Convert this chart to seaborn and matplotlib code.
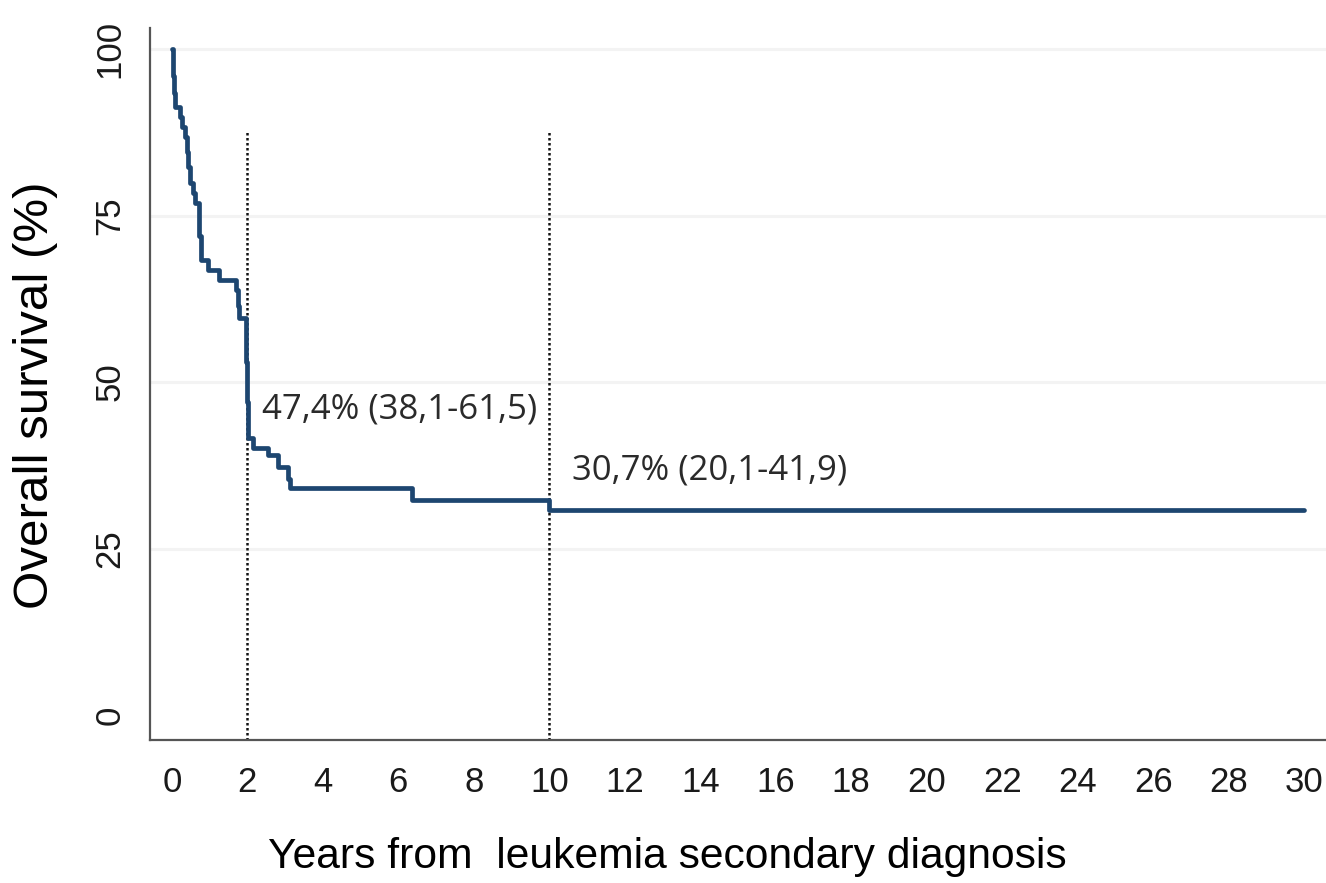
import matplotlib
matplotlib.use("Agg")
import matplotlib.pyplot as plt
import seaborn as sns
import pandas as pd

# Kaplan-Meier step data (years, overall survival %)
years = [0.0, 0.03, 0.06, 0.08, 0.22, 0.28, 0.34, 0.39, 0.43, 0.48, 0.56, 0.61,
         0.73, 0.77, 0.95, 1.24, 1.70, 1.74, 1.78, 1.97, 1.99, 2.01, 2.15, 2.55,
         2.80, 3.08, 3.13, 6.35, 9.98, 30.0]
survival = [100.0, 96.0, 93.5, 91.3, 89.8, 88.3, 86.8, 84.5, 82.3, 79.9, 78.4, 76.9,
            72.0, 68.3, 66.8, 65.3, 63.8, 61.5, 59.6, 53.0, 47.0, 41.6, 40.1, 39.0,
            37.3, 35.5, 34.1, 32.3, 30.8, 30.8]

x_ticks = list(range(0, 31, 2))
y_ticks = [0, 25, 50, 75, 100]
marker_years = [2, 10]
annotations = ["47,4% (38,1-61,5)", "30,7% (20,1-41,9)"]
annot_x = [2.385, 10.6]
annot_y = [44.6, 35.3]

sns.set_style("white")
plt.rcParams['font.family'] = ['Liberation Sans', 'DejaVu Sans']

fig = plt.figure(figsize=(13.26, 8.83), dpi=100)
ax = fig.add_axes([0.113, 0.162, 0.887, 0.806])

df = pd.DataFrame({"years": years, "survival": survival})

# light horizontal gridlines
for yv in y_ticks[1:]:
    ax.axhline(yv, color="#f3f3f3", lw=2.2, zorder=0)

sns.lineplot(data=df, x="years", y="survival", ax=ax, estimator=None, sort=True,
             drawstyle="steps-post", color="#1d4670", lw=3.4, zorder=3)

ax.set_xlim(-0.583, 30.58)
ax.set_ylim(-3.75, 103.15)

ymin = ax.get_ylim()[0]
ax.vlines(marker_years, ymin, 87.8, colors="#111111", linestyles=(0, (1, 1)),
          lw=1.8, zorder=2)

for txt, xv, yv in zip(annotations, annot_x, annot_y):
    ax.text(xv, yv, txt, fontsize=25, family=["Open Sans", "DejaVu Sans"],
            color="#2a2a2a", ha="left", va="baseline", zorder=4)

ax.set_xticks(x_ticks)
ax.set_yticks(y_ticks)
ax.set_yticklabels([str(v) for v in y_ticks], rotation=90, va="center")

for side in ["top", "right"]:
    ax.spines[side].set_visible(False)
for side in ["left", "bottom"]:
    ax.spines[side].set_color("#555555")
    ax.spines[side].set_linewidth(1.6)

ax.tick_params(axis="both", which="major", direction="out", length=10, width=1.6,
               color="#555555", labelsize=25, labelcolor="#1a1a1a")
ax.tick_params(axis="x", pad=9)
ax.tick_params(axis="y", pad=7)

ax.set_xlabel("Years from  leukemia secondary diagnosis", fontsize=30.7,
              color="#000000")
ax.set_ylabel("Overall survival (%)", fontsize=35.5, color="#000000")
ax.xaxis.set_label_coords(0.44, -0.136)
ax.yaxis.set_label_coords(-0.078, 0.485)

fig.savefig("out.png", dpi=100, facecolor="white")
